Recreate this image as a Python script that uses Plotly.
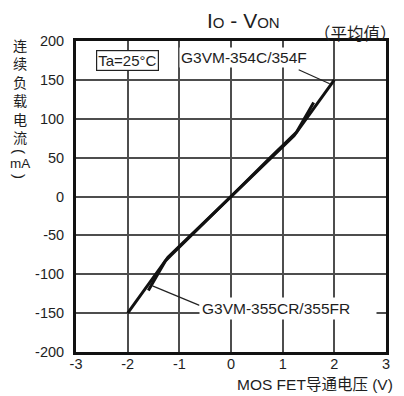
import plotly.graph_objects as go

# I/O characteristic data (average values)
v_354 = [-2.0, -1.22, -0.78, 0.0, 0.78, 1.22, 2.0]
i_354 = [-150, -78, -50, 0, 50, 78, 150]
v_355 = [-1.6, -1.27, -1.15, -0.76, 0.0, 0.76, 1.15, 1.27, 1.6]
i_355 = [-121, -83, -75, -50, 0, 50, 75, 83, 121]

x_ticks = [-3, -2, -1, 0, 1, 2, 3]
y_ticks = [-200, -150, -100, -50, 0, 50, 100, 150, 200]

LAT = "Liberation Sans, Arial, sans-serif"
MIX = "Liberation Sans, Noto Sans CJK SC, sans-serif"
CJK = "Noto Sans CJK SC, sans-serif"
INK = "#1e1e1e"

fig = go.Figure()
for vx, iy in ((v_354, i_354), (v_355, i_355)):
    fig.add_trace(go.Scatter(x=vx, y=iy, mode="lines",
                             line=dict(color="#111", width=3),
                             showlegend=False, hoverinfo="skip"))

axis_common = dict(showgrid=True, gridcolor="#4d4d4d", gridwidth=1.5,
                   zeroline=False, showline=True, linecolor="#111", linewidth=3,
                   mirror=True, ticks="", tickfont=dict(family=LAT, size=14.5, color=INK))
fig.update_xaxes(range=[-3, 3], tickvals=x_ticks, ticktext=[str(v) for v in x_ticks],
                 ticklabelstandoff=-3, **axis_common)
fig.update_yaxes(range=[-200, 200], tickvals=y_ticks, ticktext=[str(v) for v in y_ticks],
                 ticklabelstandoff=6, **axis_common)

# leader lines for the series labels
fig.add_shape(type="line", x0=1.31, y0=163, x1=1.91, y1=145,
              line=dict(color="#222", width=1.2))
fig.add_shape(type="line", x0=-1.52, y0=-115, x1=-0.61, y1=-140,
              line=dict(color="#222", width=1.2))

fig.add_annotation(x=-2.0, y=175.5, xref="x", yref="y", text="Ta=25°C",
                   font=dict(family=LAT, size=15, color=INK), bgcolor="white",
                   bordercolor="#222", borderwidth=1.2, borderpad=1, showarrow=False)
fig.add_annotation(x=-1.0, y=178.5, xref="x", yref="y", xanchor="left",
                   text="G3VM-354C/354F", font=dict(family=LAT, size=15.5, color=INK),
                   bgcolor="white", borderpad=1, showarrow=False)
fig.add_annotation(x=-0.62, y=-143.5, xref="x", yref="y", xanchor="left",
                   text="G3VM-355CR/355FR", font=dict(family=LAT, size=15.5, color=INK),
                   width=172, align="left", bgcolor="white", borderpad=2,
                   showarrow=False)

def px(xp, yp):
    """Pixel position in the page -> paper coordinates."""
    return (xp - 76) / 310, (352 - yp) / 311

# title with small-size subscripts sharing the baseline
tx, ty = px(243, 20)
fig.add_annotation(
    xref="paper", yref="paper", x=tx, y=ty, xanchor="center", yanchor="middle",
    text='I<span style="font-size:15px">O</span> - V<span style="font-size:15px">ON</span>',
    font=dict(family=LAT, size=21, color=INK), showarrow=False)
tx, ty = px(399, 33)
fig.add_annotation(xref="paper", yref="paper", x=tx, y=ty, text="（平均值）",
                   xanchor="right", yanchor="middle",
                   font=dict(family=CJK, size=16.5, color=INK), showarrow=False)

# x axis title
tx, ty = px(395, 384)
fig.add_annotation(xref="paper", yref="paper", x=tx, y=ty, text="MOS FET导通电压 (V)",
                   xanchor="right", yanchor="middle",
                   font=dict(family=MIX, size=15.5, color=INK), showarrow=False)

# vertical y axis title: stacked characters, then the unit in turned brackets
tx, ty = px(20, 91)
fig.add_annotation(xref="paper", yref="paper", x=tx, y=ty,
                   text="<br>".join("连续负载电流"),
                   font=dict(family=CJK, size=14.2, color=INK),
                   showarrow=False, xanchor="center", yanchor="middle")
for ypx, ch, ang, sz in ((151, "(", 90, 15), (163, "mA", 0, 13.5), (176, ")", 90, 15)):
    tx, ty = px(20, ypx)
    fig.add_annotation(xref="paper", yref="paper", x=tx, y=ty, text=ch, textangle=ang,
                       font=dict(family=LAT, size=sz, color=INK),
                       showarrow=False, xanchor="center", yanchor="middle")

fig.update_layout(width=404, height=396, margin=dict(l=76, r=18, t=41, b=44),
                  paper_bgcolor="white", plot_bgcolor="white")
fig.write_html("out.html")
